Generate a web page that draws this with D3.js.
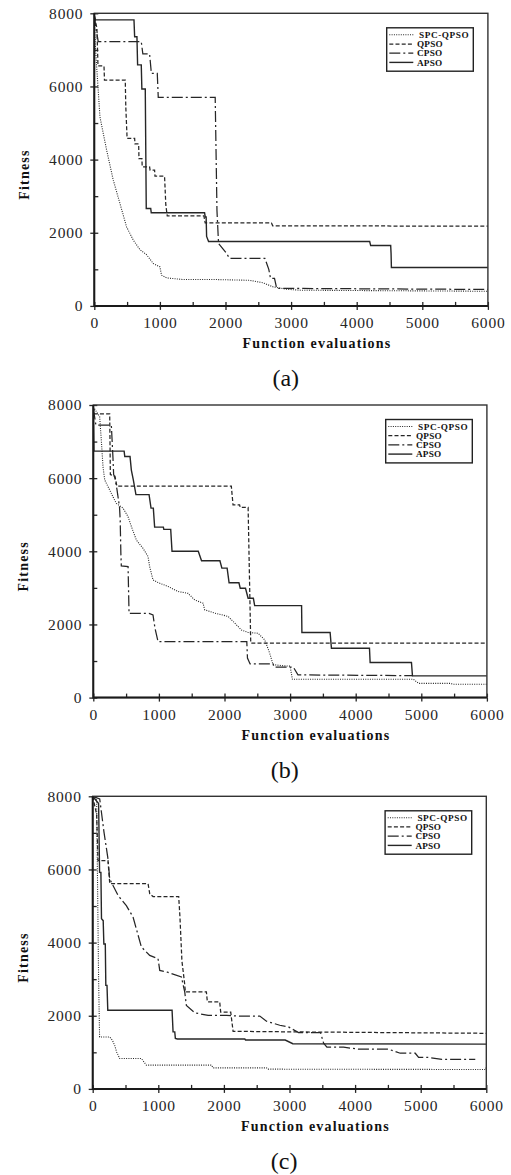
<!DOCTYPE html>
<html>
<head>
<meta charset="utf-8">
<script src="https://cdn.jsdelivr.net/npm/d3@7"></script>
<style>
  body { margin: 0; background: #fff; }
  svg { display: block; }
</style>
</head>
<body>
<div id="chart"></div>
<script>
// ---- data ----
var seriesNames = ["SPC-QPSO", "QPSO", "CPSO", "APSO"];
var xTicks = [0, 1000, 2000, 3000, 4000, 5000, 6000];
var yTicks = [0, 2000, 4000, 6000, 8000];
var panelLabels = ["(a)", "(b)", "(c)"];
var xTitle = "Function evaluations";
var yTitle = "Fitness";

// panel (a)
var a_spc = [[0,7800],[20,7000],[36,6540],[86,5170],[188,4260],[289,3440],[391,2800],[492,2160],[594,1800],[695,1540],[797,1400],[898,1160],[1000,1067],[1025,840],[1101,766],[1355,720],[1863,720],[2370,700],[2574,630],[2726,520],[2929,456],[3132,430],[4000,420],[5000,410],[6000,400]];
var a_qpso = [[0,7900],[40,7600],[56,6560],[148,6560],[155,6175],[472,6175],[480,5450],[500,4580],[615,4580],[620,4430],[676,4430],[681,4030],[726,4030],[730,3800],[843,3800],[850,3710],[919,3710],[925,3545],[1071,3545],[1090,2760],[1112,2460],[1671,2460],[1690,2270],[2700,2270],[2720,2190],[6000,2180]];
var a_cpso = [[0,7950],[25,7600],[60,7223],[716,7223],[740,6890],[843,6890],[870,6356],[960,6356],[975,5700],[1843,5700],[1870,2600],[1894,1707],[2010,1452],[2062,1300],[2600,1300],[2660,1000],[2686,753],[2747,753],[2780,480],[6000,450]];
var a_apso = [[0,7950],[15,7820],[605,7820],[615,7360],[650,7360],[660,6590],[716,6590],[725,5930],[777,5930],[792,2665],[860,2665],[868,2545],[1681,2545],[1692,2430],[1705,2430],[1712,1900],[1742,1760],[4198,1760],[4213,1650],[4518,1650],[4524,1430],[4529,1050],[6000,1050]];

// panel (b)
var b_spc = [[0,7950],[97,7680],[122,7040],[148,6310],[174,5950],[224,5770],[300,5490],[351,5310],[453,5180],[529,4950],[580,4680],[656,4310],[758,4080],[834,3860],[859,3580],[910,3220],[987,3145],[1139,3040],[1292,2900],[1444,2850],[1546,2670],[1673,2580],[1698,2400],[1851,2310],[2054,2220],[2155,2040],[2257,1850],[2359,1780],[2511,1760],[2613,1580],[2689,1215],[2740,900],[2900,870],[3000,860],[3035,500],[4880,500],[4958,390],[5440,390],[5490,365],[6000,365]];
var b_qpso = [[0,7950],[20,7760],[250,7760],[260,6100],[330,6050],[360,5780],[2104,5780],[2130,5270],[2230,5270],[2240,5200],[2360,5200],[2400,1490],[6000,1490]];
var b_cpso = [[0,7900],[40,7450],[275,7450],[300,6550],[310,6100],[330,6000],[360,5700],[400,5200],[410,4850],[420,3950],[427,3600],[530,3580],[545,2300],[850,2300],[910,2260],[940,1900],[987,1530],[2340,1530],[2350,1080],[2390,920],[2740,920],[2760,830],[3050,830],[3120,620],[4870,600]];
var b_apso = [[0,8000],[10,6740],[470,6740],[480,6590],[560,6590],[580,6220],[610,5950],[650,5550],[850,5550],[880,5180],[915,5180],[935,4660],[1068,4660],[1075,4600],[1180,4600],[1200,4000],[1600,4000],[1650,3740],[1930,3740],[1960,3540],[2040,3540],[2070,3140],[2220,3140],[2240,2990],[2320,2990],[2360,2715],[2440,2715],[2460,2515],[3175,2515],[3180,1780],[3610,1780],[3630,1350],[4210,1350],[4220,960],[4850,960],[4865,595],[6000,595]];

// panel (c)
var c_spc = [[0,8000],[60,7900],[90,3000],[105,1420],[259,1420],[300,1330],[335,1190],[365,1010],[412,830],[742,830],[818,650],[1810,650],[1835,575],[2649,575],[2674,540],[5990,530],[6000,600]];
var c_qpso = [[0,8000],[60,7500],[81,6240],[233,6240],[260,5610],[844,5610],[870,5330],[920,5260],[1311,5260],[1330,4700],[1360,3500],[1400,2900],[1413,2650],[1733,2650],[1748,2380],[1936,2380],[1951,2100],[2104,2100],[2140,1575],[2980,1560],[6000,1520]];
var c_cpso = [[0,8000],[107,7930],[172,7020],[233,6290],[259,5740],[386,5290],[513,5010],[615,4700],[742,3880],[869,3650],[996,3560],[1022,3240],[1139,3190],[1352,3060],[1403,2650],[1428,2280],[1556,2080],[1760,2010],[2040,2010],[2242,1990],[2547,1990],[2649,1850],[2852,1740],[2980,1700],[3138,1540],[3473,1540],[3520,1250],[3570,1140],[3824,1140],[4052,1085],[4510,1085],[4688,975],[4917,975],[4968,860],[5120,860],[5323,810],[5832,810]];
var c_apso = [[0,8000],[90,7800],[105,5920],[125,5920],[134,4650],[160,4600],[170,3960],[192,3960],[200,2830],[218,2830],[230,2150],[1210,2150],[1225,1560],[1251,1560],[1260,1380],[1291,1365],[2319,1365],[2330,1337],[2935,1337],[3050,1235],[6000,1225]];

// ---- layout ----
var W = 511, H = 1175;
var plotW = 393.6, plotH = 292.6;
var panels = [
    { left: 94.3, top: 13.3, series: [a_spc, a_qpso, a_cpso, a_apso] },
    { left: 93.3, top: 405.0, series: [b_spc, b_qpso, b_cpso, b_apso] },
    { left: 92.7, top: 796.3, series: [c_spc, c_qpso, c_cpso, c_apso] }
];
var dashes = ["1,1.3", "4,2.2", "11,3,2,3", null];
var widths = [1.1, 1.25, 1.25, 1.4];
var ink = "#262626";
var serif = "'Liberation Serif', 'DejaVu Serif', serif";

var svg = d3.select("#chart")
    .append("svg")
        .attr("width", W)
        .attr("height", H)
        .attr("viewBox", "0 0 " + W + " " + H);

var x = d3.scaleLinear().domain([0, 6000]).range([0, plotW]);
var y = d3.scaleLinear().domain([0, 8000]).range([plotH, 0]);
var line = d3.line().x(function(d) { return x(d[0]); }).y(function(d) { return y(d[1]); });
var fmt = d3.format("d");

var minorX = d3.range(0, 6001, 500);
var minorY = d3.range(0, 8001, 1000);

panels.forEach(function(p, i) {
    var g = svg.append("g").attr("transform", "translate(" + p.left + "," + p.top + ")");

    g.append("clipPath").attr("id", "clip" + i)
        .append("rect").attr("width", plotW).attr("height", plotH);

    // outer (labelled) ticks
    var xa = g.append("g")
        .attr("transform", "translate(0," + plotH + ")")
        .call(d3.axisBottom(x).tickValues(xTicks).tickFormat(fmt).tickSize(4).tickPadding(7.5));
    var ya = g.append("g")
        .call(d3.axisLeft(y).tickValues(yTicks).tickFormat(fmt).tickSize(4).tickPadding(7));
    [xa, ya].forEach(function(a) {
        a.select(".domain").remove();
        a.selectAll("line").attr("stroke", ink).attr("stroke-width", 1.3);
        a.selectAll("text")
            .attr("fill", ink)
            .style("font-family", serif)
            .style("font-size", "15.5px")
            .style("letter-spacing", "0.8px");
    });

    // inner ticks every 500 / 1000
    var xi = g.append("g")
        .attr("transform", "translate(0," + plotH + ")")
        .call(d3.axisTop(x).tickValues(minorX).tickSize(4).tickFormat(""));
    var yi = g.append("g")
        .call(d3.axisRight(y).tickValues(minorY).tickSize(4).tickFormat(""));
    [xi, yi].forEach(function(a) {
        a.select(".domain").remove();
        a.selectAll("line").attr("stroke", ink).attr("stroke-width", 1.3);
    });

    // series
    var lines = g.append("g").attr("clip-path", "url(#clip" + i + ")");
    p.series.forEach(function(s, k) {
        lines.append("path")
            .datum(s)
            .attr("d", line)
            .attr("fill", "none")
            .attr("stroke", ink)
            .attr("stroke-width", widths[k])
            .attr("stroke-dasharray", dashes[k]);
    });

    // frame: thin top/right, heavier left/bottom
    g.append("rect")
        .attr("width", plotW).attr("height", plotH)
        .attr("fill", "none").attr("stroke", "#333").attr("stroke-width", 1.4);
    g.append("path")
        .attr("d", "M0,0V" + plotH + "H" + plotW)
        .attr("fill", "none").attr("stroke", "#1a1a1a").attr("stroke-width", 2);

    // legend
    var lg = g.append("g").attr("transform", "translate(292.4,14.5)");
    lg.append("rect")
        .attr("width", 86.6).attr("height", 43.4)
        .attr("fill", "#fff").attr("stroke", "#222").attr("stroke-width", 1.4);
    seriesNames.forEach(function(name, k) {
        var cy = 7 + k * 9.2;
        lg.append("line")
            .attr("x1", 2.6).attr("x2", 26.6).attr("y1", cy).attr("y2", cy)
            .attr("stroke", ink)
            .attr("stroke-width", widths[k])
            .attr("stroke-dasharray", dashes[k]);
        lg.append("text")
            .attr("x", k === 0 ? 32.3 : 30.3)
            .attr("y", cy + 3.2)
            .attr("fill", "#111")
            .style("font-family", serif)
            .style("font-weight", "bold")
            .style("font-size", "9.2px")
            .style("letter-spacing", k === 0 ? "0.6px" : "0.2px")
            .text(name);
    });

    // axis titles
    g.append("text")
        .attr("transform", "translate(-65," + (plotH / 2 + 15) + ") rotate(-90)")
        .attr("text-anchor", "middle")
        .attr("fill", "#111")
        .style("font-family", serif)
        .style("font-weight", "bold")
        .style("font-size", "14px")
        .style("letter-spacing", "1.2px")
        .text(yTitle);
    g.append("text")
        .attr("x", 222.7)
        .attr("y", plotH + 42)
        .attr("text-anchor", "middle")
        .attr("fill", "#111")
        .style("font-family", serif)
        .style("font-weight", "bold")
        .style("font-size", "14px")
        .style("letter-spacing", "1.2px")
        .text(xTitle);

    // panel caption
    g.append("text")
        .attr("x", 191.5)
        .attr("y", plotH + 80)
        .attr("text-anchor", "middle")
        .attr("fill", "#111")
        .style("font-family", serif)
        .style("font-size", "24px")
        .text(panelLabels[i]);
});
</script>
</body>
</html>
